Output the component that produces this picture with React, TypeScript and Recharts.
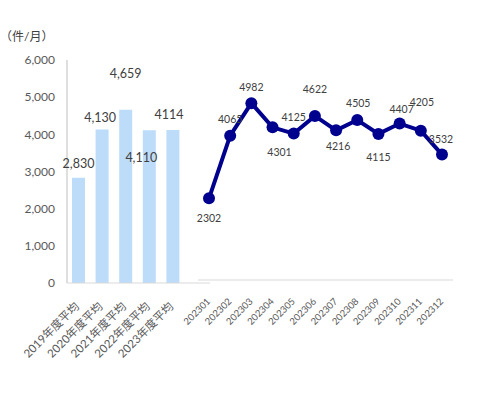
import { BarChart, Bar, LineChart, Line, XAxis, YAxis, LabelList } from 'recharts';

// yearly averages (left block)
const yearLabels = ['2019年度平均', '2020年度平均', '2021年度平均', '2022年度平均', '2023年度平均'];
const yearValues = [2830, 4130, 4659, 4110, 4114];
const yearValueText = ['2,830', '4,130', '4,659', '4,110', '4114'];

// monthly values for 2023 (right block)
const months = ['202301', '202302', '202303', '202304', '202305', '202306', '202307', '202308', '202309', '202310', '202311', '202312'];
const monthValues = [2302, 4065, 4982, 4301, 4125, 4622, 4216, 4505, 4115, 4407, 4205, 3532];

const yTicks = [0, 1000, 2000, 3000, 4000, 5000, 6000];

// label nudges
const barLabelDx = [0, -2, 0, -8, -4];
const barLabelDy = [-14, -12, -36, 27, -16];
const lineLabelDx = [0, 0, 0, 7, 0, 0, 2, 1, 0, 2, 1, -1];
const lineLabelDy = [20, -17, -16, 25, -17, -27, 16, -17, 23, -15, -29, -16];

const barData = yearLabels.map((name, i) => ({ name, value: yearValues[i] }));
const lineData = months.map((name, i) => ({ name, value: monthValues[i] }));

const FONT = "Lato, 'Noto Sans CJK JP', sans-serif";

function YearTick(props: any) {
    const { x, y, payload } = props;
    return (
        <g transform={`translate(${x + 1},${y + 16}) rotate(-45)`}>
            <text x={0} y={0} textAnchor="end" fill="#595959" fontSize={11.5} fontFamily={FONT}>
                {payload.value}
            </text>
        </g>
    );
}

function MonthTick(props: any) {
    const { x, y, payload } = props;
    return (
        <g transform={`translate(${x + 2},${y + 14}) rotate(-45)`}>
            <text x={0} y={0} textAnchor="end" fill="#595959" fontSize={9.5} fontFamily={FONT}>
                {payload.value}
            </text>
        </g>
    );
}

function BarValueLabel(props: any) {
    const { x, y, width, index } = props;
    return (
        <text x={x + width / 2 + barLabelDx[index]} y={y + barLabelDy[index]} textAnchor="middle"
            dominantBaseline="central" fill="#404040" fontSize={12.5} fontFamily={FONT}>
            {yearValueText[index]}
        </text>
    );
}

function LineValueLabel(props: any) {
    const { x, y, value, index } = props;
    return (
        <text x={x + lineLabelDx[index]} y={y + lineLabelDy[index]} textAnchor="middle"
            dominantBaseline="central" fill="#404040" fontSize={10.5} fontFamily={FONT}>
            {value}
        </text>
    );
}

export default function App() {
    return (
        <div style={{ position: 'absolute', left: 0, top: 0, width: 480, height: 395, background: '#fff', fontFamily: FONT }}>
            <div style={{ position: 'absolute', left: 0, top: 28, fontSize: 12, color: '#404040', lineHeight: '18px' }}>（件/月）</div>
            <div style={{ position: 'absolute', left: 0, top: 0 }}>
                <BarChart width={215} height={395} data={barData} margin={{ top: 60, right: 5, bottom: 0, left: 0 }}>
                    <XAxis dataKey="name" height={112} interval={0} tick={<YearTick />} tickLine={false}
                        axisLine={{ stroke: '#d9d9d9' }} padding={{ left: 0, right: 25 }} />
                    <YAxis width={67} domain={[0, 6000]} ticks={yTicks} tickFormatter={(v: number) => v.toLocaleString('en-US')}
                        tickLine={false} tickSize={0} tickMargin={12} axisLine={{ stroke: '#bfbfbf' }}
                        tick={{ fill: '#595959', fontSize: 12, fontFamily: FONT }} />
                    <Bar dataKey="value" fill="#BDDCFA" barSize={13} isAnimationActive={false}>
                        <LabelList dataKey="value" content={<BarValueLabel />} />
                    </Bar>
                </BarChart>
            </div>
            <div style={{ position: 'absolute', left: 150, top: 0 }}>
                <LineChart width={323} height={395} data={lineData} margin={{ top: 67, right: 20, bottom: 0, left: 48 }}>
                    <XAxis dataKey="name" height={115} interval={0} tick={<MonthTick />} tickLine={false}
                        axisLine={{ stroke: '#d9d9d9' }} padding={{ left: 11, right: 11 }} />
                    <YAxis hide domain={[0, 6000]} />
                    <Line dataKey="value" stroke="#00008F" strokeWidth={4} isAnimationActive={false}
                        dot={{ r: 6, fill: '#00008F', stroke: '#00008F', strokeWidth: 0 }}>
                        <LabelList dataKey="value" content={<LineValueLabel />} />
                    </Line>
                </LineChart>
            </div>
        </div>
    );
}
